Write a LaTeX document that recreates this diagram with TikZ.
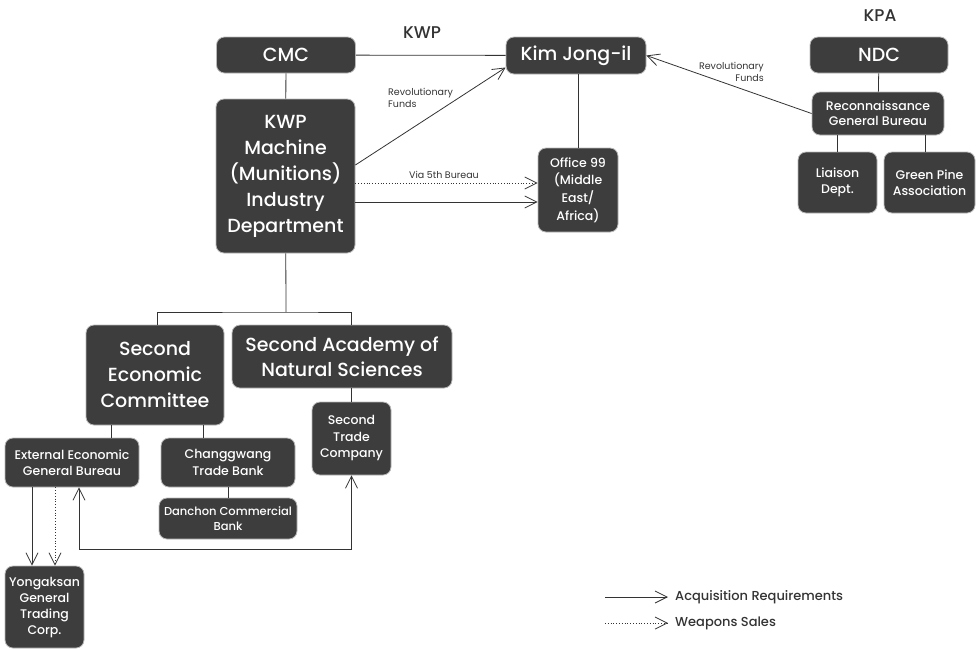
\documentclass[tikz,border=0pt]{standalone}
\usepackage{fontspec}
\setmainfont{Poppins}
\newfontfamily\medf{Poppins Medium}
\usetikzlibrary{arrows.meta}
\definecolor{boxfill}{HTML}{3D3D3D}
\definecolor{linegrey}{HTML}{333333}
\tikzset{
  box/.style={draw=gray!55, line width=0.8pt, fill=boxfill, text=white, rounded corners=8pt, align=center, inner sep=1pt},
  big/.style={box, font=\medf\fontsize{19}{26}\selectfont},
  mid/.style={box, font=\medf\fontsize{12.5}{16.5}\selectfont},
  lbl/.style={font=\fontsize{9.5}{12}\selectfont, inner sep=0pt, text=linegrey},
  head/.style={font=\medf\fontsize{17}{20}\selectfont, text=linegrey},
  legend/.style={font=\medf\fontsize{13}{16}\selectfont, text=linegrey, inner xsep=7pt, anchor=west},
  conn/.style={draw=linegrey, line width=0.8pt}
}
\begin{document}
\begin{tikzpicture}[x=1pt, y=-1pt, >={Straight Barb[length=12pt,width=12pt]}]
  \useasboundingbox (0,0) rectangle (979,649);
  % headings
  \node [head] (kwp) at (422,33) {KWP};
  \node [head] (kpa) at (880,16) {KPA};
  % top row
  \node [big, minimum width=139pt, minimum height=36pt] (cmc) at (286,55) {CMC};
  \node [big, minimum width=140pt, minimum height=37pt] (kim) at (576,55.5) {Kim Jong-il};
  \node [big, minimum width=138pt, minimum height=36pt] (ndc) at (879,55) {NDC};
  \node [big, minimum width=139pt, minimum height=154pt] (kwpm) at (285.5,176) {KWP\\Machine\\(Munitions)\\Industry\\Department};
  \node [mid, minimum width=80pt, minimum height=84pt, font=\medf\fontsize{12.5}{17.7}\selectfont] (off99) at (578,190) {Office 99\\(Middle\\East/\\Africa)};
  \node [mid, minimum width=132pt, minimum height=43pt, font=\medf\fontsize{12.5}{15}\selectfont] (rgb) at (878,113.5) {Reconnaissance\\General Bureau};
  \node [mid, minimum width=79pt, minimum height=61pt] (liaison) at (837.5,182.5) {Liaison\\Dept.};
  \node [mid, minimum width=91pt, minimum height=61pt] (pine) at (929.5,182.5) {Green Pine\\Association};
  % lower tree
  \node [big, minimum width=138pt, minimum height=100pt] (sec) at (155,375) {Second\\Economic\\Committee};
  \node [big, minimum width=220pt, minimum height=63pt, font=\medf\fontsize{19}{25}\selectfont] (sans) at (342,356.5) {Second Academy of\\Natural Sciences};
  \node [mid, minimum width=79pt, minimum height=73pt] (stc) at (351.5,438.5) {Second\\Trade\\Company};
  \node [mid, minimum width=134pt, minimum height=49pt] (eegb) at (72,462.5) {External Economic\\General Bureau};
  \node [mid, minimum width=134pt, minimum height=49pt] (ctb) at (228,462.5) {Changgwang\\Trade Bank};
  \node [mid, minimum width=138pt, minimum height=41pt, font=\medf\fontsize{11.5}{15.5}\selectfont] (dcb) at (228,518.5) {Danchon Commercial\\Bank};
  \node [mid, minimum width=79pt, minimum height=82pt, font=\medf\fontsize{12.5}{16}\selectfont] (ygtc) at (44.5,607) {Yongaksan\\General\\Trading\\Corp.};
  % tree lines
  \draw [conn] (cmc) -- (kim);
  \draw [conn] (cmc) -- (kwpm);
  \draw [conn] (kim.south -| off99) -- (off99);
  \draw [conn] (ndc) -- (rgb);
  \draw [conn] (liaison.north) -- (liaison.north |- rgb.south);
  \draw [conn] ([xshift=-4pt]pine.north) -- ([xshift=-4pt]pine.north |- rgb.south);
  \coordinate (bus) at (286,312);
  \draw [conn] (kwpm) -- (bus);
  \draw [conn] ([xshift=2pt]sec.north) |- (bus) -| ([xshift=9pt]sans.north);
  \draw [conn] (stc.north) -- (stc.north |- sans.south);
  \draw [conn] ([xshift=39pt]eegb.north) -- ([xshift=39pt]eegb.north |- sec.south);
  \draw [conn] ([xshift=-25pt]ctb.north) -- ([xshift=-25pt]ctb.north |- sec.south);
  \draw [conn] (ctb) -- (dcb);
  % flows
  \draw [conn, ->] ([yshift=11pt]kwpm.east) -- ([yshift=-12pt]kim.west);
  \node [lbl, align=left, anchor=north west] (revA) at (388,88) {Revolutionary\\Funds};
  \draw [conn, ->] (rgb.west) -- (kim.east);
  \node [lbl, align=right, anchor=north east] (revB) at (764,62) {Revolutionary\\Funds};
  \draw [conn, dotted, ->] ([yshift=-7pt]kwpm.east) -- ([yshift=-7pt]kwpm.east -| off99.west);
  \node [lbl] (via) at (444,175) {Via 5th Bureau};
  \draw [conn, ->] ([yshift=-26pt]kwpm.east) -- ([yshift=-26pt]kwpm.east -| off99.west);
  \draw [conn, ->] ([xshift=-40pt]eegb.south) -- ([xshift=-40pt]eegb.south |- ygtc.north);
  \draw [conn, dotted, ->] ([xshift=-17pt]eegb.south) -- ([xshift=-17pt]eegb.south |- ygtc.north);
  \draw [conn, <->] ([xshift=7pt]eegb.south) -- ++(0,62) -| (stc.south);
  % legend
  \coordinate (acqS) at (605,597);
  \node [legend] (acq) at (668,597) {Acquisition Requirements};
  \draw [conn, ->] (acqS) -- (acq.west);
  \coordinate (wpnS) at (605,623);
  \node [legend] (wpn) at (668,623) {Weapons Sales};
  \draw [conn, dotted, ->] (wpnS) -- (wpn.west);
\end{tikzpicture}
\end{document}
